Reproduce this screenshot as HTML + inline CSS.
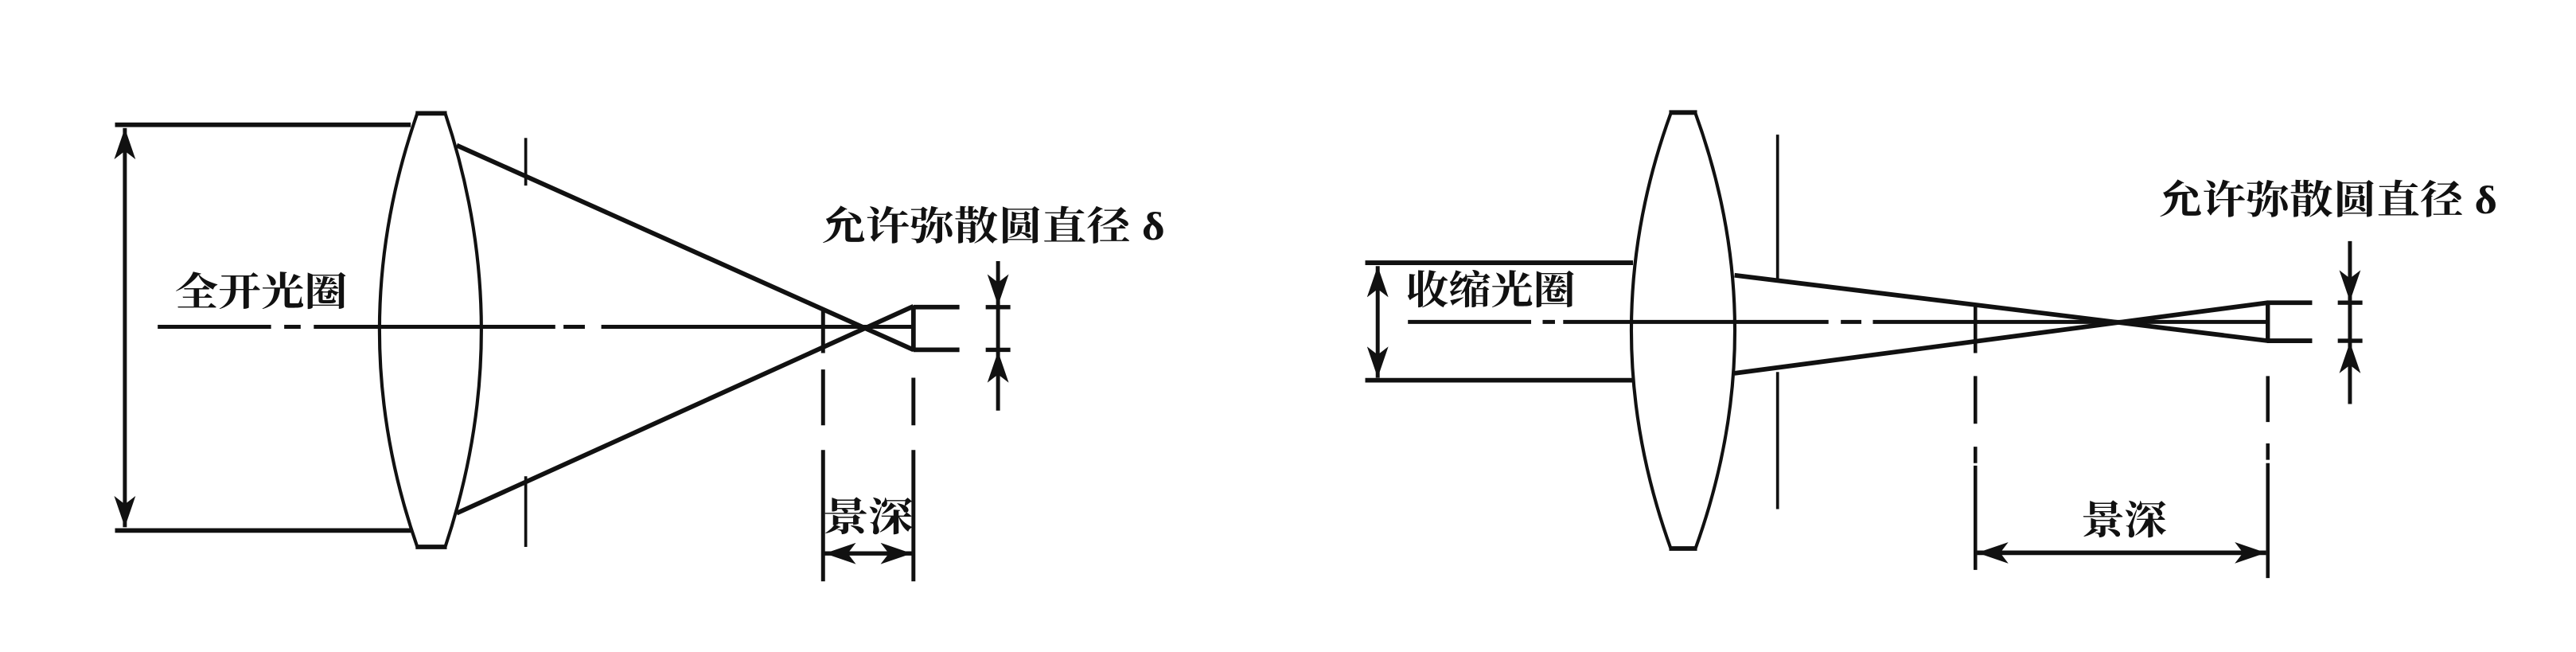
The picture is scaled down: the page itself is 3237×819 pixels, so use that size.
<!DOCTYPE html>
<html><head><meta charset="utf-8"><style>
html,body{margin:0;padding:0;background:#fff;}
svg{display:block;}
text{font-family:"Liberation Serif","Noto Serif CJK SC","Noto Sans CJK SC",serif;font-size:24px;fill:#111;font-weight:bold;}
</style></head><body>
<svg width="3237" height="819" viewBox="0 0 1568 397" preserveAspectRatio="none" xmlns="http://www.w3.org/2000/svg">
<defs>
<marker id="a" viewBox="0 0 19 13" refX="19" refY="6.5" markerWidth="19" markerHeight="13" markerUnits="userSpaceOnUse" orient="auto-start-reverse"><path d="M0,0 L19,6.5 L0,13 L5,6.5 Z" fill="#111"/></marker>
</defs>
<g stroke="#111" fill="none" stroke-linecap="butt">
<!-- LEFT DIAGRAM -->
<line x1="70" y1="76" x2="250" y2="76" stroke-width="2.8"/>
<line x1="70" y1="323" x2="250" y2="323" stroke-width="2.8"/>
<line x1="76" y1="78" x2="76" y2="321" stroke-width="2.4" marker-start="url(#a)" marker-end="url(#a)"/>
<path d="M254,69 Q208,201 254,333" stroke-width="2"/>
<path d="M271,69 Q315,201 271,333" stroke-width="2"/>
<line x1="253" y1="69" x2="272" y2="69" stroke-width="2.8"/>
<line x1="253" y1="333" x2="272" y2="333" stroke-width="2.8"/>
<path d="M96,199H165M173,199H183M191,199H338M343,199H356M366,199H556" stroke-width="2.4"/>
<line x1="320" y1="84" x2="320" y2="113" stroke-width="1.8"/>
<line x1="320" y1="290" x2="320" y2="333" stroke-width="1.8"/>
<line x1="278" y1="88.5" x2="556" y2="213" stroke-width="2.8"/>
<line x1="278" y1="312.5" x2="556" y2="186.5" stroke-width="2.8"/>
<line x1="556" y1="186" x2="556" y2="214" stroke-width="2.8"/>
<line x1="556" y1="187" x2="584" y2="187" stroke-width="2.8"/>
<line x1="556" y1="213" x2="584" y2="213" stroke-width="2.8"/>
<line x1="607.5" y1="159" x2="607.5" y2="186" stroke-width="2.4" marker-end="url(#a)"/>
<line x1="607.5" y1="250" x2="607.5" y2="214" stroke-width="2.4" marker-end="url(#a)"/>
<line x1="607.5" y1="187" x2="607.5" y2="213" stroke-width="2.4"/>
<line x1="600" y1="187" x2="615" y2="187" stroke-width="2.6"/>
<line x1="600" y1="213" x2="615" y2="213" stroke-width="2.6"/>
<path d="M501,188V215M501,225V259M501,274V354" stroke-width="2.4"/>
<path d="M556,230V259M556,274V354" stroke-width="2.4"/>
<line x1="502" y1="337" x2="555" y2="337" stroke-width="2.6" marker-start="url(#a)" marker-end="url(#a)"/>
<!-- RIGHT DIAGRAM -->
<line x1="831" y1="160" x2="994" y2="160" stroke-width="2.8"/>
<line x1="831" y1="231.5" x2="994" y2="231.5" stroke-width="2.8"/>
<line x1="838.6" y1="162" x2="838.6" y2="230" stroke-width="2.4" marker-start="url(#a)" marker-end="url(#a)"/>
<path d="M1017,69 Q969,201 1017,334" stroke-width="2"/>
<path d="M1032,69 Q1080,201 1032,334" stroke-width="2"/>
<line x1="1016" y1="68.5" x2="1033" y2="68.5" stroke-width="2.8"/>
<line x1="1016" y1="334" x2="1033" y2="334" stroke-width="2.8"/>
<path d="M857,196H932M939,196H946.5M951.5,196H1113M1120.5,196H1133M1140,196H1380" stroke-width="2.4"/>
<line x1="1082" y1="82" x2="1082" y2="170" stroke-width="1.8"/>
<line x1="1082" y1="226.5" x2="1082" y2="310" stroke-width="1.8"/>
<line x1="1055.8" y1="167.6" x2="1380.4" y2="207.5" stroke-width="2.8"/>
<line x1="1055.8" y1="227.3" x2="1380.4" y2="184.3" stroke-width="2.8"/>
<line x1="1380.4" y1="183.5" x2="1380.4" y2="208.5" stroke-width="2.6"/>
<line x1="1380" y1="184.3" x2="1407.4" y2="184.3" stroke-width="2.8"/>
<line x1="1380" y1="207.5" x2="1407.4" y2="207.5" stroke-width="2.8"/>
<line x1="1430.4" y1="146.8" x2="1430.4" y2="183.5" stroke-width="2.4" marker-end="url(#a)"/>
<line x1="1430.4" y1="246" x2="1430.4" y2="208.3" stroke-width="2.4" marker-end="url(#a)"/>
<line x1="1430.4" y1="184" x2="1430.4" y2="208" stroke-width="2.4"/>
<line x1="1423" y1="184.3" x2="1438" y2="184.3" stroke-width="2.6"/>
<line x1="1423" y1="207.5" x2="1438" y2="207.5" stroke-width="2.6"/>
<path d="M1202.4,186V215M1202.4,229V258M1202.4,272V282M1202.4,283.5V347" stroke-width="2.2"/>
<path d="M1380.4,229V257M1380.4,270V280M1380.4,282V352" stroke-width="2.2"/>
<line x1="1203.5" y1="336.6" x2="1379.3" y2="336.6" stroke-width="2.8" marker-start="url(#a)" marker-end="url(#a)"/>
</g>
<g>
<text x="106.5" y="186" textLength="105" lengthAdjust="spacingAndGlyphs">全开光圈</text>
<text x="500" y="146" textLength="209" lengthAdjust="spacingAndGlyphs">允许弥散圆直径 δ</text>
<text x="501" y="323" textLength="55" lengthAdjust="spacingAndGlyphs">景深</text>
<text x="856" y="185" textLength="103" lengthAdjust="spacingAndGlyphs">收缩光圈</text>
<text x="1314" y="130" textLength="206" lengthAdjust="spacingAndGlyphs">允许弥散圆直径 δ</text>
<text x="1267" y="325" textLength="52" lengthAdjust="spacingAndGlyphs">景深</text>
</g>
</svg>
</body></html>
